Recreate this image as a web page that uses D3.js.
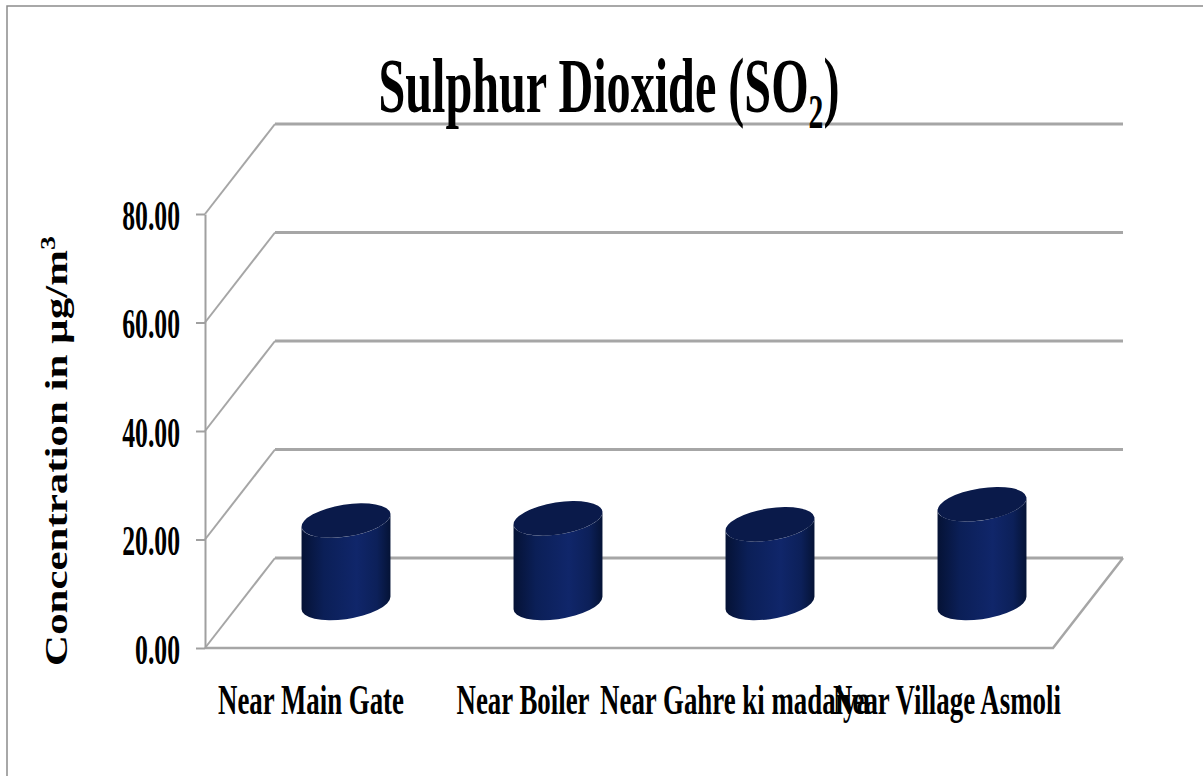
<!DOCTYPE html>
<html>
<head>
<meta charset="utf-8">
<script src="https://cdn.jsdelivr.net/npm/d3@7"></script>
<style>
  body { margin: 0; background: #ffffff; }
  text { font-family: "Liberation Serif", "Times New Roman", serif; font-weight: bold; fill: #000; }
</style>
</head>
<body>
<script>
// chart data
const categories = ['Near Main Gate', 'Near Boiler', 'Near Gahre ki madaiya', 'Near Village Asmoli'];
const so2Values = [15.2, 15.6, 14.5, 18.2];
const yTicks = [0, 20, 40, 60, 80];

const width = 1203, height = 776;
const depthX = 70, depthY = -90;   // 3d depth offset of the back wall

let svg = d3.select('body').append('svg')
    .attr('width', width)
    .attr('height', height);

// outer frame
svg.append('path')
    .attr('d', 'M7,' + height + ' V6 H' + width)
    .attr('fill', 'none')
    .attr('stroke', '#8c8c8c')
    .attr('stroke-width', 1.5);

let xScale = d3.scaleBand()
    .domain(categories)
    .range([205, 1053]);

let yScale = d3.scaleLinear()
    .domain([0, 80])
    .range([648, 214]);

let x0 = xScale.range()[0], x1 = xScale.range()[1];

// gridlines: diagonal on the side wall + horizontal on the back wall
let grid = svg.append('g');
grid.selectAll('.diag')
    .data(yTicks)
    .enter()
    .append('line')
    .attr('x1', x0)
    .attr('y1', (t) => yScale(t))
    .attr('x2', x0 + depthX)
    .attr('y2', (t) => yScale(t) + depthY)
    .attr('stroke', '#a6a6a6')
    .attr('stroke-width', 2);
grid.selectAll('.back')
    .data(yTicks)
    .enter()
    .append('line')
    .attr('x1', x0 + depthX)
    .attr('y1', (t) => yScale(t) + depthY)
    .attr('x2', x1 + depthX)
    .attr('y2', (t) => yScale(t) + depthY)
    .attr('stroke', '#a6a6a6')
    .attr('stroke-width', 3);

// floor front and right edge
svg.append('path')
    .attr('d', `M${x0},${yScale(0)} H${x1} L${x1 + depthX},${yScale(0) + depthY}`)
    .attr('fill', 'none')
    .attr('stroke', '#a6a6a6')
    .attr('stroke-width', 2.5);

// y axis
let yAxis = svg.append('g')
    .attr('transform', `translate(${x0}, 0)`)
    .call(d3.axisLeft(yScale)
        .tickValues(yTicks)
        .tickSize(9)
        .tickSizeOuter(0)
        .tickFormat(d3.format('.2f')));
yAxis.select('.domain').attr('stroke', '#a0a0a0').attr('stroke-width', 2);
yAxis.selectAll('.tick line').attr('stroke', '#a0a0a0').attr('stroke-width', 2);
let tickTexts = yAxis.selectAll('.tick text')
    .style('font-size', '43px')
    .style('font-family', '"Liberation Serif", "Times New Roman", serif')
    .style('font-weight', 'bold')
    .attr('fill', '#000');
let tickSx = 45 / tickTexts.node().getComputedTextLength();   // "0.00" is 45px wide
tickTexts
    .attr('x', -25 / tickSx)
    .attr('dy', '0.35em')
    .attr('transform', `scale(${tickSx},1)`);

// cylinders
let defs = svg.append('defs');
let grad = defs.append('linearGradient')
    .attr('id', 'cylBody')
    .attr('x1', '0%').attr('x2', '100%')
    .attr('y1', '0%').attr('y2', '0%');
grad.append('stop').attr('offset', '0%').attr('stop-color', '#051235');
grad.append('stop').attr('offset', '25%').attr('stop-color', '#0b1f57');
grad.append('stop').attr('offset', '62%').attr('stop-color', '#10266a');
grad.append('stop').attr('offset', '85%').attr('stop-color', '#0c2059');
grad.append('stop').attr('offset', '100%').attr('stop-color', '#051336');

let rx = xScale.bandwidth() * 0.212;
let ry = 16;
let rotDeg = -9;
let th = rotDeg * Math.PI / 180;
let ext = Math.sqrt(rx * rx * Math.cos(th) ** 2 + ry * ry * Math.sin(th) ** 2);
let yR = (rx * rx - ry * ry) * Math.sin(th) * Math.cos(th) / ext; // y offset of rightmost point

let cylData = categories.map((c, i) => ({ name: c, value: so2Values[i] }));

let cyl = svg.selectAll('.cyl')
    .data(cylData)
    .enter()
    .append('g');

cyl.append('path')
    .attr('d', function (d) {
        let cx = xScale(d.name) + xScale.bandwidth() / 2 + depthX / 2;
        let by = yScale(0) + depthY / 2;
        let ty = yScale(d.value) + depthY / 2;
        return `M${cx - ext},${ty - yR} L${cx - ext},${by - yR} ` +
            `A${rx},${ry} ${rotDeg} 0 0 ${cx + ext},${by + yR} ` +
            `L${cx + ext},${ty + yR} ` +
            `A${rx},${ry} ${rotDeg} 0 1 ${cx - ext},${ty - yR} Z`;
    })
    .attr('fill', 'url(#cylBody)');

cyl.append('ellipse')
    .attr('cx', (d) => xScale(d.name) + xScale.bandwidth() / 2 + depthX / 2)
    .attr('cy', (d) => yScale(d.value) + depthY / 2)
    .attr('rx', rx)
    .attr('ry', ry)
    .attr('transform', (d) => `rotate(${rotDeg}, ${xScale(d.name) + xScale.bandwidth() / 2 + depthX / 2}, ${yScale(d.value) + depthY / 2})`)
    .attr('fill', '#0a1a4a');

// category labels
let catLabels = svg.selectAll('.cat')
    .data(categories)
    .enter()
    .append('text')
    .attr('text-anchor', 'middle')
    .style('font-size', '43px')
    .text((d) => d);
let catSx = 186 / catLabels.node().getComputedTextLength();
catLabels.attr('transform', (d) => `translate(${xScale(d) + xScale.bandwidth() / 2}, 714) scale(${catSx},1)`);

// title
let title = svg.append('text')
    .attr('text-anchor', 'middle')
    .style('font-size', '78px');
title.append('tspan').text('Sulphur Dioxide (SO');
title.append('tspan').attr('dy', 16).style('font-size', '48px').text('2');
title.append('tspan').attr('dy', -16).text(')');
let titleSx = 461 / title.node().getComputedTextLength();
title.attr('transform', `translate(609, 112) scale(${titleSx},1)`);

// y axis title
let yTitle = svg.append('text')
    .attr('text-anchor', 'middle')
    .style('font-size', '31px');
yTitle.append('tspan').text('Concentration in µg/m');
yTitle.append('tspan').attr('dy', -12).style('font-size', '20px').text('3');
let yTitleSx = 430 / yTitle.node().getComputedTextLength();
yTitle.attr('transform', `translate(67, 451) rotate(-90) scale(${yTitleSx},1)`);
</script>
</body>
</html>
